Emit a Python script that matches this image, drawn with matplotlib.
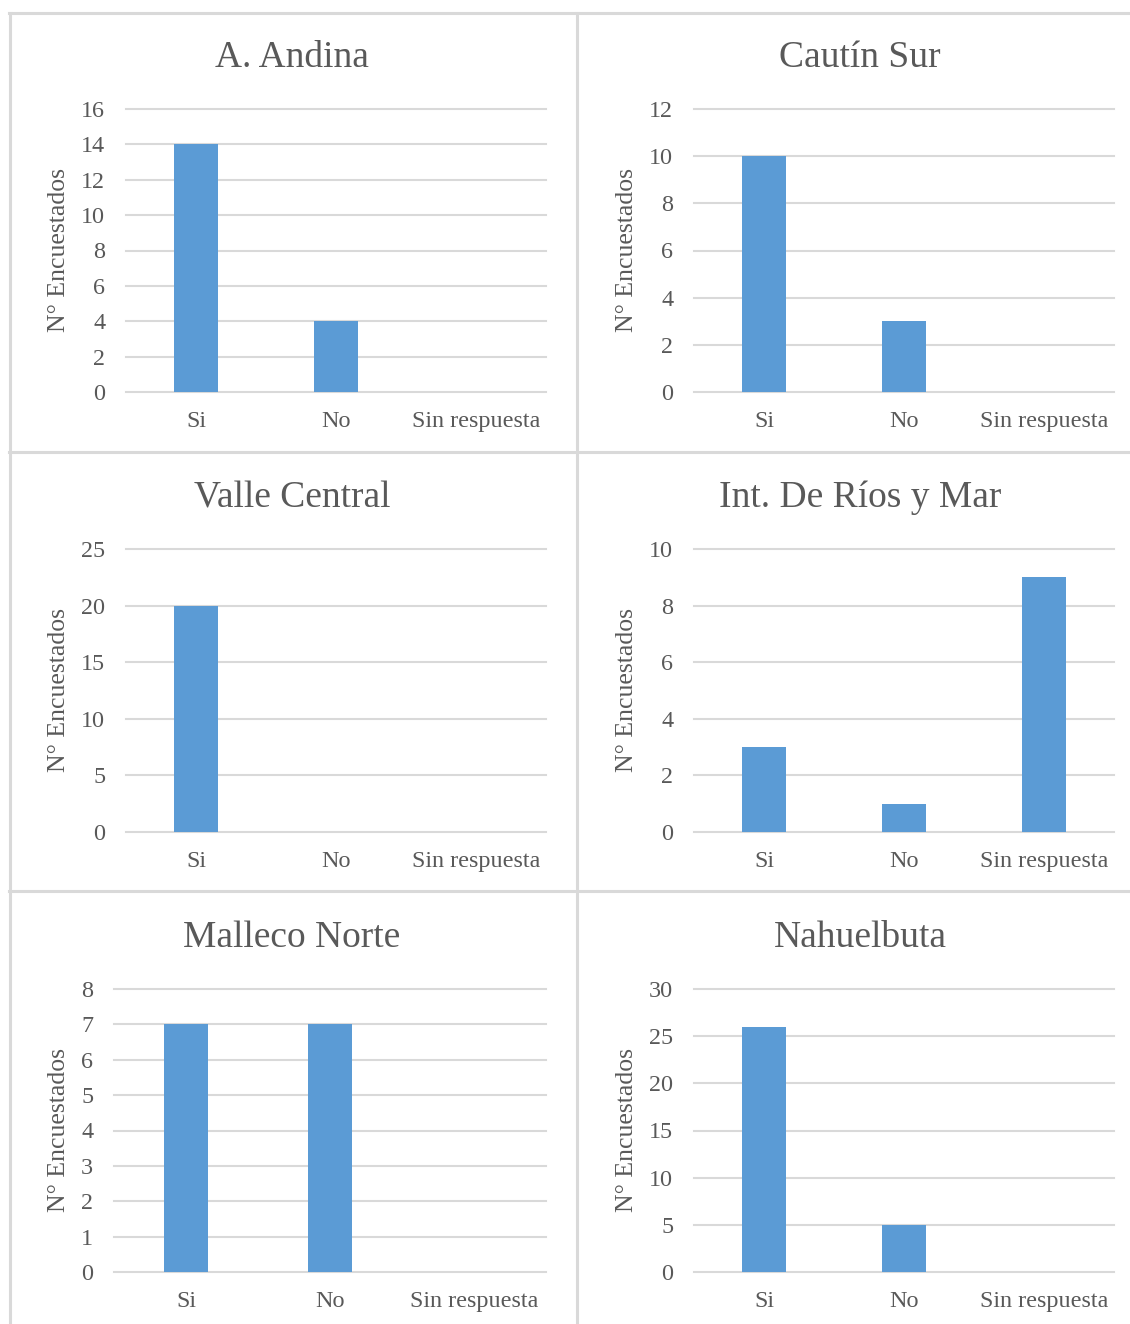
import matplotlib
matplotlib.use("Agg")
import matplotlib.pyplot as plt
from matplotlib.lines import Line2D

plt.rcParams['font.family'] = ['Liberation Serif', 'DejaVu Serif']

categories = ["Si", "No", "Sin respuesta"]
titles = ["A. Andina", "Cautín Sur", "Valle Central", "Int. De Ríos y Mar", "Malleco Norte", "Nahuelbuta"]
andina = [14, 4, 0]
cautin = [10, 3, 0]
valle = [20, 0, 0]
rios_mar = [3, 1, 9]
malleco = [7, 7, 0]
nahuelbuta = [26, 5, 0]
series = [andina, cautin, valle, rios_mar, malleco, nahuelbuta]
ymax = [16, 12, 25, 10, 8, 30]
ystep = [2, 2, 5, 2, 1, 5]
ylabel = "N° Encuestados"

W, H = 1130, 1324
fig = plt.figure(figsize=(W / 100, H / 100), dpi=100)
fig.patch.set_facecolor("white")

TXT = "#595959"
GRID = "#D9D9D9"
BAR = "#5B9BD5"

# plot areas in pixels: (left, right, top, bottom)
boxes = [
    (126, 546, 109, 392),
    (694, 1114, 109, 392),
    (126, 546, 549, 832),
    (694, 1114, 549, 832),
    (114, 546, 989, 1272),
    (694, 1114, 989, 1272),
]
title_pos = [(292, 58), (860, 58), (292, 498), (860, 498), (292, 938), (860, 938)]
label_x = [70, 638, 70, 638, 70, 638]

for i, (vals, box) in enumerate(zip(series, boxes)):
    l, r, t, b = box
    ax = fig.add_axes([l / W, 1 - b / H, (r - l) / W, (b - t) / H])
    x = list(range(len(categories)))
    ax.bar(x, vals, width=0.31, color=BAR, zorder=3)
    ax.set_xlim(-0.5, 2.5)
    ax.set_ylim(0, ymax[i])
    ticks = list(range(0, ymax[i] + 1, ystep[i]))
    ax.set_yticks(ticks)
    ax.set_xticks(x)
    ax.set_xticklabels(categories)
    for s in ax.spines.values():
        s.set_visible(False)
    for tk in ticks:
        ax.axhline(tk, color=GRID, lw=1.5, zorder=1, clip_on=False)
    ax.tick_params(axis="both", length=0, labelsize=17.4, colors=TXT)
    ax.tick_params(axis="y", pad=15)
    ax.tick_params(axis="x", pad=14)
    ax.set_ylabel(ylabel, fontsize=18.5, color=TXT)
    ax.yaxis.set_label_coords((label_x[i] - l) / (r - l), 0.5)
    ax.set_facecolor("none")
    tx, ty = title_pos[i]
    fig.text(tx / W, 1 - ty / H, titles[i], ha="center", va="center", fontsize=27, color=TXT)

# panel borders
def hline(y, x0, x1):
    fig.add_artist(Line2D([x0 / W, x1 / W], [1 - y / H, 1 - y / H], color=GRID, lw=2.2))

def vline(x, y0, y1):
    fig.add_artist(Line2D([x / W, x / W], [1 - y0 / H, 1 - y1 / H], color=GRID, lw=2.2))

hline(13, 9, W)
hline(452, 9, W)
hline(891, 9, W)
vline(10, 13, H)
vline(577, 13, H)

fig.savefig("out.png", dpi=100)
